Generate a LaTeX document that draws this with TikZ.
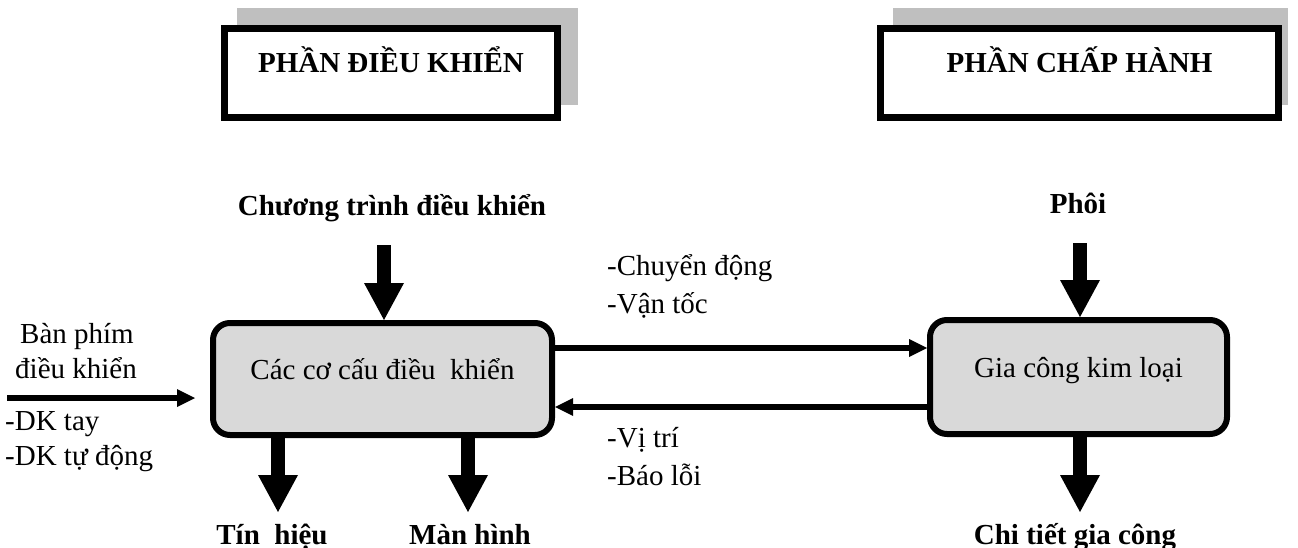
\documentclass[tikz,border=0pt]{standalone}
\usepackage{fontspec}
\setmainfont{Liberation Serif}
\usetikzlibrary{arrows.meta}
\definecolor{shadowgray}{RGB}{191,191,191}
\definecolor{boxgray}{RGB}{217,217,217}

\begin{document}
\begin{tikzpicture}[x=1pt,y=-1pt,
  txt/.style={font=\fontsize{29}{35}\selectfont, inner sep=0pt},
  bold/.style={txt, font=\fontsize{29}{35}\selectfont\bfseries},
  title/.style={bold, draw, line width=7pt, fill=white, minimum height=89pt, text height=20pt, text depth=20pt},
  unit/.style={txt, draw, line width=6pt, fill=boxgray, rounded corners=17pt, text height=20pt, text depth=20pt},
  bigarrow/.style={line width=14pt, -{Triangle[width=40pt,length=37pt,line width=0pt]}},
  thinarrow/.style={line width=6pt, -{Triangle[width=18pt,length=18pt,line width=0pt]}}]
  \useasboundingbox (0,0) rectangle (1298,548);

  % title blocks with their shadows
  \fill[shadowgray] (237,8) rectangle (578,105);
  \fill[shadowgray] (893,8) rectangle (1288,105);
  \node[title, minimum width=333pt] (ctrlTitle) at (391,73) {PHẦN ĐIỀU KHIỂN};
  \node[title, minimum width=398pt] (execTitle) at (1079.5,73) {PHẦN CHẤP HÀNH};

  % main blocks
  \node[unit, minimum width=339pt, minimum height=112pt] (ctrl) at (382.5,379) {Các cơ cấu điều\ \ khiển};
  \node[unit, minimum width=297pt, minimum height=114pt] (work) at (1078.5,377) {Gia công kim loại};

  % inputs and outputs
  \node[bold, anchor=base] (prog)   at (392,215)  {Chương trình điều khiển};
  \node[bold, anchor=base] (blank)  at (1078,214) {Phôi};
  \node[bold, anchor=base] (signal) at (272,544)  {Tín\ \ hiệu};
  \node[bold, anchor=base] (screen) at (470,544)  {Màn hình};
  \node[bold, anchor=base] (part)   at (1075,544) {Chi tiết gia công};

  \node[txt, anchor=base] (kb1) at (77,343) {Bàn phím};
  \node[txt, anchor=base] (kb2) at (76,378) {điều khiển};
  \node[txt, anchor=base west] (manual) at (5,430) {-DK tay};
  \node[txt, anchor=base west] (auto)   at (5,465) {-DK tự động};

  \node[txt, anchor=base west] (motion) at (607,275) {-Chuyển động};
  \node[txt, anchor=base west] (speed)  at (607,313) {-Vận tốc};
  \node[txt, anchor=base west] (pos)    at (607,447) {-Vị trí};
  \node[txt, anchor=base west] (fault)  at (607,485) {-Báo lỗi};

  \coordinate (progIn)    at (384,245);
  \coordinate (blankIn)   at (1080,243);
  \coordinate (signalOut) at (278,512);
  \coordinate (screenOut) at (468,512);
  \coordinate (partOut)   at (1080,512);
  \coordinate (kbIn)      at (7,398);

  \draw[bigarrow] (progIn) -- (progIn |- ctrl.north);
  \draw[bigarrow] (blankIn) -- (blankIn |- work.north);
  \draw[bigarrow] (signalOut |- ctrl.south) -- (signalOut);
  \draw[bigarrow] (screenOut |- ctrl.south) -- (screenOut);
  \draw[bigarrow] (partOut |- work.south) -- (partOut);

  \draw[thinarrow, shorten >=15pt] (kbIn) -- (kbIn -| ctrl.west);
  \draw[thinarrow] ([yshift=31pt]ctrl.east) -- ([yshift=31pt]ctrl.east -| work.west);
  \draw[thinarrow] ([yshift=-30pt]work.west) -- ([yshift=-30pt]work.west -| ctrl.east);
\end{tikzpicture}
\end{document}
